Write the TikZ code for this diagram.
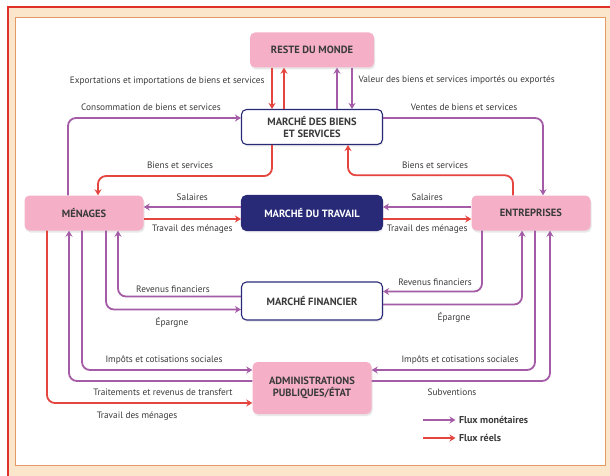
\documentclass[tikz,border=0pt]{standalone}
\usepackage{fontspec}
\setmainfont{PT Sans}
\usetikzlibrary{positioning,arrows.meta,shadows}

\definecolor{rosebox}{HTML}{F5B0C8}
\definecolor{navyblue}{HTML}{282A78}
\definecolor{fluxmon}{HTML}{A45CA6}
\definecolor{fluxreel}{HTML}{E5453F}
\definecolor{cadrebeige}{HTML}{FBE6CC}
\definecolor{cadreorange}{HTML}{E59A66}
\definecolor{cadrerouge}{HTML}{E0302A}
\definecolor{texte}{HTML}{3A3A3A}

\begin{document}
\begin{tikzpicture}[
    x=1pt, y=-1pt,
    node distance=3cm,
    acteur/.style={rectangle, fill=rosebox, text=texte, font=\bfseries\fontsize{10.5}{12}\selectfont, align=center, rounded corners=5pt, minimum width=119pt, minimum height=35pt, drop shadow={opacity=0.18, shadow xshift=1pt, shadow yshift=-2pt}},
    marche/.style={rectangle, draw=navyblue, line width=1.1pt, fill=white, text=texte, font=\bfseries\fontsize{10.5}{12}\selectfont, align=center, rounded corners=5pt, minimum width=141pt, minimum height=35pt, drop shadow={opacity=0.12, shadow xshift=1pt, shadow yshift=-2pt}},
    marchesombre/.style={marche, fill=navyblue, text=white},
    monetaire/.style={draw=fluxmon, line width=1.8pt, rounded corners=8pt, -{Stealth[length=6pt, width=7pt]}},
    reel/.style={monetaire, draw=fluxreel},
    legende/.style={font=\fontsize{9.3}{10}\selectfont, text=texte}
]
    \useasboundingbox (0,0) rectangle (610,476);
    % cadre
    \fill[cadrebeige] (8,7) rectangle (610,476);
    \draw[cadrerouge, line width=1.5pt] (8,476) -- (8,7) -- (610,7);
    \draw[cadreorange, line width=1pt, fill=white] (15.5,17.5) rectangle (605,465);

    % agents et marches
    \node[marchesombre] (travail) at (312,213) {MARCHÉ DU TRAVAIL};
    \node[acteur, left of=travail, node distance=228pt] (menages) {MÉNAGES};
    \node[acteur, right of=travail, node distance=219pt] (entreprises) {ENTREPRISES};
    \node[marche, above of=travail, node distance=86pt] (biens) {MARCHÉ DES BIENS\\ET SERVICES};
    \node[acteur, minimum width=124pt, above of=biens, node distance=77pt] (monde) {RESTE DU MONDE};
    \node[marche, minimum height=38pt, below of=travail, node distance=88pt] (financier) {MARCHÉ FINANCIER};
    \node[acteur, minimum height=52pt, below of=financier, node distance=87pt] (etat) {ADMINISTRATIONS\\PUBLIQUES/ÉTAT};

    % reste du monde
    \draw[reel] ([xshift=-40pt]monde.south) -- ([xshift=-40pt]biens.north);
    \draw[reel] ([xshift=-28pt]biens.north) -- ([xshift=-28pt]monde.south);
    \draw[monetaire] ([xshift=25pt]biens.north) -- ([xshift=25pt]monde.south);
    \draw[monetaire] ([xshift=40pt]monde.south) -- ([xshift=40pt]biens.north);
    \node[legende, anchor=east] (lexport) at (268,81) {Exportations et importations de biens et services};
    \node[legende, anchor=west] (lvaleur) at (355,80) {Valeur des biens et services importés ou exportés};

    % marche des biens
    \draw[monetaire] ([xshift=-16pt]menages.north) |- ([yshift=9pt]biens.west);
    \draw[monetaire] ([yshift=9pt]biens.east) -| ([xshift=12pt]entreprises.north);
    \draw[reel] ([xshift=-40pt]biens.south) -- ++(0,31) -| ([xshift=14pt]menages.north);
    \draw[reel] ([xshift=-18pt]entreprises.north) -- ++(0,-20) -| ([xshift=36pt]biens.south);
    \node[legende] (lconso) at (151,107) {Consommation de biens et services};
    \node[legende] (lventes) at (464,107) {Ventes de biens et services};
    \node[legende] (lbiens1) at (180,165) {Biens et services};
    \node[legende] (lbiens2) at (435,165) {Biens et services};

    % marche du travail
    \draw[monetaire] ([yshift=6pt]travail.west) -- node[legende, above=2pt] {Salaires} ([yshift=6pt]menages.east);
    \draw[reel] ([yshift=-6pt]menages.east) -- node[legende, below=2pt] {Travail des ménages} ([yshift=-6pt]travail.west);
    \draw[monetaire] ([yshift=6pt]entreprises.west) -- node[legende, above=2pt] {Salaires} ([yshift=6pt]travail.east);
    \draw[reel] ([yshift=-6pt]travail.east) -- node[legende, below=2pt] {Travail des ménages} ([yshift=-6pt]entreprises.west);

    % marche financier
    \draw[monetaire] ([yshift=4.5pt]financier.west) -| ([xshift=34pt]menages.south);
    \draw[monetaire] ([xshift=22pt]menages.south) |- ([yshift=-8.5pt]financier.west);
    \draw[monetaire] ([xshift=-49pt]entreprises.south) |- ([yshift=9.5pt]financier.east);
    \draw[monetaire] ([yshift=-3.5pt]financier.east) -| ([xshift=-9pt]entreprises.south);
    \node[legende] (lrevenus1) at (173,289) {Revenus financiers};
    \node[legende] (lepargne1) at (172,322) {Épargne};
    \node[legende] (lrevenus2) at (435,282) {Revenus financiers};
    \node[legende] (lepargne2) at (454,317) {Épargne};

    % administrations publiques
    \draw[monetaire] ([xshift=-2pt]menages.south) |- ([yshift=18pt]etat.west);
    \draw[monetaire] ([yshift=7pt]etat.west) -| ([xshift=-15pt]menages.south);
    \draw[reel] ([xshift=-37pt]menages.south) |- ([yshift=-15pt]etat.west);
    \draw[monetaire] ([xshift=4pt]entreprises.south) |- ([yshift=18pt]etat.east);
    \draw[monetaire] ([yshift=7pt]etat.east) -| ([xshift=19pt]entreprises.south);
    \node[legende] (limpots1) at (164,360) {Impôts et cotisations sociales};
    \node[legende] (ltraitements) at (163,392) {Traitements et revenus de transfert};
    \node[legende] (ltravail3) at (137,416) {Travail des ménages};
    \node[legende] (limpots2) at (460,360) {Impôts et cotisations sociales};
    \node[legende] (lsubventions) at (452,392) {Subventions};

    % legende
    \node[legende, font=\bfseries\fontsize{10}{11}\selectfont, anchor=west] (lmon) at (455.5,420) {Flux monétaires};
    \node[legende, font=\bfseries\fontsize{10}{11}\selectfont, anchor=west] (lreel) at (455.5,438) {Flux réels};
    \draw[monetaire, line width=2.2pt] ([xshift=-33pt]lmon.west) -- (lmon.west);
    \draw[reel, line width=2.2pt] ([xshift=-33pt]lreel.west) -- (lreel.west);
\end{tikzpicture}
\end{document}
